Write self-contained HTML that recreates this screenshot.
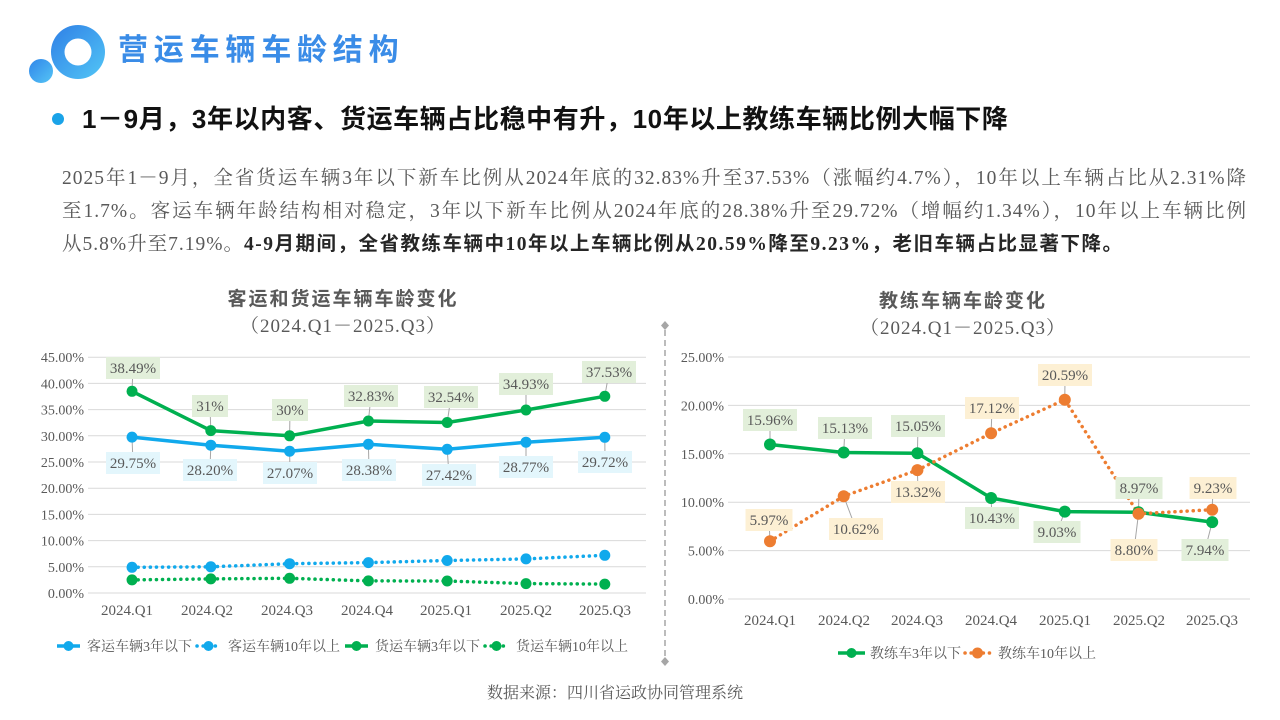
<!DOCTYPE html>
<html><head><meta charset="utf-8">
<style>
html,body{margin:0;padding:0;background:#fff;}
body{width:1280px;height:720px;position:relative;overflow:hidden;}
.abs{position:absolute;white-space:nowrap;}
.title{left:118px;top:29px;font-family:"Liberation Sans","Noto Sans CJK SC",sans-serif;font-weight:bold;font-size:30px;letter-spacing:5.8px;color:#3a8ce7;line-height:44px;}
.sub{left:82px;top:101px;font-family:"Liberation Sans","Noto Sans CJK SC",sans-serif;font-weight:bold;font-size:26px;letter-spacing:0.6px;color:#111;line-height:36px;}
.body{left:62px;width:1185px;font-family:"Liberation Serif","Noto Serif CJK SC",serif;font-size:19.5px;letter-spacing:1px;color:#595959;line-height:34px;}
.j{text-align:justify;text-align-last:justify;}
.b{font-family:"Liberation Serif","Noto Sans CJK SC",sans-serif;font-weight:bold;color:#262626;letter-spacing:1.5px;}
</style></head><body>
<svg class="abs" style="left:0;top:0" width="1280" height="720" viewBox="0 0 1280 720">
<defs>
<linearGradient id="lg1" x1="0" y1="0" x2="1" y2="1">
<stop offset="0" stop-color="#2f7fe6"/><stop offset="1" stop-color="#52c6f6"/>
</linearGradient>
<linearGradient id="lg2" x1="0" y1="0" x2="1" y2="1">
<stop offset="0" stop-color="#2f86ea"/><stop offset="1" stop-color="#55c4f5"/>
</linearGradient>
</defs>
<!-- logo -->
<circle cx="78" cy="52" r="27" fill="url(#lg1)"/>
<circle cx="78" cy="52" r="13.5" fill="#fff"/>
<circle cx="41" cy="71" r="12" fill="url(#lg2)"/>
<!-- bullet -->
<circle cx="58" cy="119" r="6" fill="#1aa3e8"/>

<!-- divider -->
<line x1="665" y1="330" x2="665" y2="658" stroke="#a6a6a6" stroke-width="1.5" stroke-dasharray="6 4"/>
<path d="M665 321 L669 325.5 L665 330 L661 325.5Z" fill="#a6a6a6"/>
<path d="M665 657 L669 661.5 L665 666 L661 661.5Z" fill="#a6a6a6"/>

<!-- LEFT CHART -->
<g font-family="Noto Sans CJK SC, sans-serif" fill="#595959" text-anchor="middle">
<text x="343" y="305" font-size="19" font-weight="bold" letter-spacing="2">客运和货运车辆车龄变化</text>
<text x="343" y="332" font-size="19" font-family="Liberation Serif, Noto Serif CJK SC, serif" letter-spacing="1">（2024.Q1－2025.Q3）</text>
</g>
<g stroke="#d9d9d9" stroke-width="1">
<line x1="88" x2="646" y1="593" y2="593"/><line x1="88" x2="646" y1="566.8" y2="566.8"/>
<line x1="88" x2="646" y1="540.6" y2="540.6"/><line x1="88" x2="646" y1="514.4" y2="514.4"/>
<line x1="88" x2="646" y1="488.2" y2="488.2"/><line x1="88" x2="646" y1="462" y2="462"/>
<line x1="88" x2="646" y1="435.8" y2="435.8"/><line x1="88" x2="646" y1="409.6" y2="409.6"/>
<line x1="88" x2="646" y1="383.4" y2="383.4"/><line x1="88" x2="646" y1="357.2" y2="357.2"/>
</g>
<g font-family="Liberation Serif, serif" font-size="14" fill="#595959" text-anchor="end">
<text x="84" y="598">0.00%</text><text x="84" y="571.8">5.00%</text>
<text x="84" y="545.6">10.00%</text><text x="84" y="519.4">15.00%</text>
<text x="84" y="493.2">20.00%</text><text x="84" y="467">25.00%</text>
<text x="84" y="440.8">30.00%</text><text x="84" y="414.6">35.00%</text>
<text x="84" y="388.4">40.00%</text><text x="84" y="362.2">45.00%</text>
</g>
<g font-family="Liberation Serif, serif" font-size="15" fill="#595959" text-anchor="middle">
<text x="127" y="615">2024.Q1</text><text x="207" y="615">2024.Q2</text>
<text x="287" y="615">2024.Q3</text><text x="367" y="615">2024.Q4</text>
<text x="446" y="615">2025.Q1</text><text x="526" y="615">2025.Q2</text>
<text x="605" y="615">2025.Q3</text>
</g>
<!-- leaders -->
<g stroke="#a6a6a6" stroke-width="1">
<line x1="133" y1="368" x2="132" y2="391.3"/><line x1="210" y1="406" x2="210.8" y2="430.6"/>
<line x1="290" y1="410" x2="289.6" y2="435.8"/><line x1="371" y1="396" x2="368.4" y2="421"/>
<line x1="451" y1="397" x2="447.2" y2="422.5"/><line x1="526" y1="384" x2="526" y2="410"/>
<line x1="609" y1="372" x2="604.8" y2="396.3"/>
<line x1="133" y1="463" x2="132" y2="437.1"/><line x1="210" y1="470" x2="210.8" y2="445.2"/>
<line x1="290" y1="473" x2="289.6" y2="451.2"/><line x1="369" y1="470" x2="368.4" y2="444.3"/>
<line x1="449" y1="475" x2="447.2" y2="449.3"/><line x1="526" y1="467" x2="526" y2="442.2"/>
<line x1="605" y1="462" x2="604.8" y2="437.3"/>
</g>
<g fill="none" stroke-linejoin="round">
<polyline stroke="#00b050" stroke-width="3.5" points="132,391.3 210.8,430.6 289.6,435.8 368.4,421 447.2,422.5 526,410 604.8,396.3"/>
<polyline stroke="#11a9ec" stroke-width="3.5" points="132,437.1 210.8,445.2 289.6,451.2 368.4,444.3 447.2,449.3 526,442.2 604.8,437.3"/>
<polyline stroke="#11a9ec" stroke-width="3.5" stroke-linecap="round" stroke-dasharray="0.1 6" points="132,567.3 210.8,566.8 289.6,563.7 368.4,562.6 447.2,560.5 526,558.9 604.8,555.3"/>
<polyline stroke="#00b050" stroke-width="3.5" stroke-linecap="round" stroke-dasharray="0.1 6" points="132,579.9 210.8,578.9 289.6,578.3 368.4,580.9 447.2,581 526,583.6 604.8,584.1"/>
</g>
<g fill="#00b050">
<circle cx="132" cy="391.3" r="5.5"/><circle cx="210.8" cy="430.6" r="5.5"/><circle cx="289.6" cy="435.8" r="5.5"/><circle cx="368.4" cy="421" r="5.5"/><circle cx="447.2" cy="422.5" r="5.5"/><circle cx="526" cy="410" r="5.5"/><circle cx="604.8" cy="396.3" r="5.5"/>
<circle cx="132" cy="579.9" r="5.5"/><circle cx="210.8" cy="578.9" r="5.5"/><circle cx="289.6" cy="578.3" r="5.5"/><circle cx="368.4" cy="580.9" r="5.5"/><circle cx="447.2" cy="581" r="5.5"/><circle cx="526" cy="583.6" r="5.5"/><circle cx="604.8" cy="584.1" r="5.5"/>
</g>
<g fill="#11a9ec">
<circle cx="132" cy="437.1" r="5.5"/><circle cx="210.8" cy="445.2" r="5.5"/><circle cx="289.6" cy="451.2" r="5.5"/><circle cx="368.4" cy="444.3" r="5.5"/><circle cx="447.2" cy="449.3" r="5.5"/><circle cx="526" cy="442.2" r="5.5"/><circle cx="604.8" cy="437.3" r="5.5"/>
<circle cx="132" cy="567.3" r="5.5"/><circle cx="210.8" cy="566.8" r="5.5"/><circle cx="289.6" cy="563.7" r="5.5"/><circle cx="368.4" cy="562.6" r="5.5"/><circle cx="447.2" cy="560.5" r="5.5"/><circle cx="526" cy="558.9" r="5.5"/><circle cx="604.8" cy="555.3" r="5.5"/>
</g>
<!-- labels left -->
<g fill="#e2efda">
<rect x="106" y="357" width="54" height="22"/><rect x="192" y="395" width="36" height="22"/>
<rect x="272" y="399" width="36" height="22"/><rect x="344" y="385" width="54" height="22"/>
<rect x="424" y="386" width="54" height="22"/><rect x="499" y="373" width="54" height="22"/>
<rect x="582" y="361" width="54" height="22"/>
</g>
<g fill="#e3f6fc">
<rect x="106" y="452" width="54" height="22"/><rect x="183" y="459" width="54" height="22"/>
<rect x="263" y="462" width="54" height="22"/><rect x="342" y="459" width="54" height="22"/>
<rect x="422" y="464" width="54" height="22"/><rect x="499" y="456" width="54" height="22"/>
<rect x="578" y="451" width="54" height="22"/>
</g>
<g font-family="Liberation Serif, serif" font-size="15" fill="#595959" text-anchor="middle">
<text x="133" y="373">38.49%</text><text x="210" y="411">31%</text><text x="290" y="415">30%</text>
<text x="371" y="401">32.83%</text><text x="451" y="402">32.54%</text><text x="526" y="389">34.93%</text>
<text x="609" y="377">37.53%</text>
<text x="133" y="468">29.75%</text><text x="210" y="475">28.20%</text><text x="290" y="478">27.07%</text>
<text x="369" y="475">28.38%</text><text x="449" y="480">27.42%</text><text x="526" y="472">28.77%</text>
<text x="605" y="467">29.72%</text>
</g>
<!-- legend left -->
<g>
<line x1="57" y1="646" x2="80" y2="646" stroke="#11a9ec" stroke-width="3.5"/><circle cx="68.5" cy="646" r="5" fill="#11a9ec"/>
<line x1="197" y1="646" x2="220" y2="646" stroke="#11a9ec" stroke-width="3.5" stroke-linecap="round" stroke-dasharray="0.1 6"/><circle cx="208.5" cy="646" r="5" fill="#11a9ec"/>
<line x1="345" y1="646" x2="368" y2="646" stroke="#00b050" stroke-width="3.5"/><circle cx="356.5" cy="646" r="5" fill="#00b050"/>
<line x1="485" y1="646" x2="508" y2="646" stroke="#00b050" stroke-width="3.5" stroke-linecap="round" stroke-dasharray="0.1 6"/><circle cx="496.5" cy="646" r="5" fill="#00b050"/>
</g>
<g font-family="Liberation Serif, Noto Serif CJK SC, serif" font-size="14" fill="#595959">
<text x="87" y="651">客运车辆3年以下</text><text x="228" y="651">客运车辆10年以上</text>
<text x="375" y="651">货运车辆3年以下</text><text x="516" y="651">货运车辆10年以上</text>
</g>

<!-- RIGHT CHART -->
<g font-family="Noto Sans CJK SC, sans-serif" fill="#595959" text-anchor="middle">
<text x="963" y="307" font-size="19" font-weight="bold" letter-spacing="2">教练车辆车龄变化</text>
<text x="963" y="334" font-size="19" font-family="Liberation Serif, Noto Serif CJK SC, serif" letter-spacing="1">（2024.Q1－2025.Q3）</text>
</g>
<g stroke="#d9d9d9" stroke-width="1">
<line x1="728" x2="1250" y1="599" y2="599"/><line x1="728" x2="1250" y1="550.6" y2="550.6"/>
<line x1="728" x2="1250" y1="502.2" y2="502.2"/><line x1="728" x2="1250" y1="453.8" y2="453.8"/>
<line x1="728" x2="1250" y1="405.4" y2="405.4"/><line x1="728" x2="1250" y1="357" y2="357"/>
</g>
<g font-family="Liberation Serif, serif" font-size="14" fill="#595959" text-anchor="end">
<text x="724" y="604">0.00%</text><text x="724" y="555.6">5.00%</text>
<text x="724" y="507.2">10.00%</text><text x="724" y="458.8">15.00%</text>
<text x="724" y="410.4">20.00%</text><text x="724" y="362">25.00%</text>
</g>
<g font-family="Liberation Serif, serif" font-size="15" fill="#595959" text-anchor="middle">
<text x="770" y="625">2024.Q1</text><text x="844" y="625">2024.Q2</text>
<text x="917" y="625">2024.Q3</text><text x="991" y="625">2024.Q4</text>
<text x="1065" y="625">2025.Q1</text><text x="1139" y="625">2025.Q2</text>
<text x="1212" y="625">2025.Q3</text>
</g>
<g stroke="#a6a6a6" stroke-width="1">
<line x1="770" y1="420" x2="770" y2="444.5"/><line x1="845" y1="428" x2="843.7" y2="452.5"/>
<line x1="918" y1="426" x2="917.4" y2="453.3"/><line x1="992" y1="518" x2="991.1" y2="498"/>
<line x1="1057" y1="532" x2="1064.8" y2="511.6"/><line x1="1139" y1="488" x2="1138.5" y2="512.2"/>
<line x1="1205" y1="550" x2="1212.2" y2="522.1"/>
<line x1="769" y1="520" x2="770" y2="541.2"/><line x1="856" y1="529" x2="843.7" y2="496.2"/>
<line x1="918" y1="492" x2="917.4" y2="470.1"/><line x1="992" y1="408" x2="991.1" y2="433.3"/>
<line x1="1065" y1="375" x2="1064.8" y2="399.7"/><line x1="1134" y1="550" x2="1138.5" y2="513.8"/>
<line x1="1213" y1="488" x2="1212.2" y2="509.7"/>
</g>
<g fill="none" stroke-linejoin="round">
<polyline stroke="#00b050" stroke-width="3.5" points="770,444.5 843.7,452.5 917.4,453.3 991.1,498 1064.8,511.6 1138.5,512.2 1212.2,522.1"/>
<polyline stroke="#ed7d31" stroke-width="3.5" stroke-linecap="round" stroke-dasharray="0.1 6" points="770,541.2 843.7,496.2 917.4,470.1 991.1,433.3 1064.8,399.7 1138.5,513.8 1212.2,509.7"/>
</g>
<g fill="#00b050">
<circle cx="770" cy="444.5" r="6"/><circle cx="843.7" cy="452.5" r="6"/><circle cx="917.4" cy="453.3" r="6"/><circle cx="991.1" cy="498" r="6"/><circle cx="1064.8" cy="511.6" r="6"/><circle cx="1138.5" cy="512.2" r="6"/><circle cx="1212.2" cy="522.1" r="6"/>
</g>
<g fill="#ed7d31">
<circle cx="770" cy="541.2" r="6"/><circle cx="843.7" cy="496.2" r="6"/><circle cx="917.4" cy="470.1" r="6"/><circle cx="991.1" cy="433.3" r="6"/><circle cx="1064.8" cy="399.7" r="6"/><circle cx="1138.5" cy="513.8" r="6"/><circle cx="1212.2" cy="509.7" r="6"/>
</g>
<g fill="#e2efda">
<rect x="743" y="409" width="54" height="22"/><rect x="818" y="417" width="54" height="22"/>
<rect x="891" y="415" width="54" height="22"/><rect x="965" y="507" width="54" height="22"/>
<rect x="1033.5" y="521" width="47" height="22"/><rect x="1115.5" y="477" width="47" height="22"/>
<rect x="1181.5" y="539" width="47" height="22"/>
</g>
<g fill="#fdf0d4">
<rect x="745.5" y="509" width="47" height="22"/><rect x="829" y="518" width="54" height="22"/>
<rect x="891" y="481" width="54" height="22"/><rect x="965" y="397" width="54" height="22"/>
<rect x="1038" y="364" width="54" height="22"/><rect x="1110.5" y="539" width="47" height="22"/>
<rect x="1189.5" y="477" width="47" height="22"/>
</g>
<g font-family="Liberation Serif, serif" font-size="15" fill="#595959" text-anchor="middle">
<text x="770" y="425">15.96%</text><text x="845" y="433">15.13%</text><text x="918" y="431">15.05%</text>
<text x="992" y="523">10.43%</text><text x="1057" y="537">9.03%</text><text x="1139" y="493">8.97%</text>
<text x="1205" y="555">7.94%</text>
<text x="769" y="525">5.97%</text><text x="856" y="534">10.62%</text><text x="918" y="497">13.32%</text>
<text x="992" y="413">17.12%</text><text x="1065" y="380">20.59%</text><text x="1134" y="555">8.80%</text>
<text x="1213" y="493">9.23%</text>
</g>
<g>
<line x1="838" y1="653" x2="865" y2="653" stroke="#00b050" stroke-width="3.5"/><circle cx="851.5" cy="653" r="5" fill="#00b050"/>
<line x1="965" y1="653" x2="990" y2="653" stroke="#ed7d31" stroke-width="3.5" stroke-linecap="round" stroke-dasharray="0.1 6"/><circle cx="977.5" cy="653" r="5.5" fill="#ed7d31"/>
</g>
<g font-family="Liberation Serif, Noto Serif CJK SC, serif" font-size="14" fill="#595959">
<text x="870" y="658">教练车3年以下</text><text x="998" y="658">教练车10年以上</text>
</g>

<!-- footer -->
<text x="615" y="698" text-anchor="middle" font-family="Liberation Serif, Noto Serif CJK SC, serif" font-size="16" fill="#595959">数据来源：四川省运政协同管理系统</text>
</svg>

<div class="abs title">营运车辆车龄结构</div>
<div class="abs sub">1－9月，3年以内客、货运车辆占比稳中有升，10年以上教练车辆比例大幅下降</div>
<div class="abs body j" style="top:162px;">2025年1－9月，全省货运车辆3年以下新车比例从2024年底的32.83%升至37.53%（涨幅约4.7%），10年以上车辆占比从2.31%降</div>
<div class="abs body j" style="top:195px;">至1.7%。客运车辆年龄结构相对稳定，3年以下新车比例从2024年底的28.38%升至29.72%（增幅约1.34%），10年以上车辆比例</div>
<div class="abs body" style="top:228px;">从5.8%升至7.19%。<span class="b">4-9月期间，全省教练车辆中10年以上车辆比例从20.59%降至9.23%，老旧车辆占比显著下降。</span></div>
</body></html>
